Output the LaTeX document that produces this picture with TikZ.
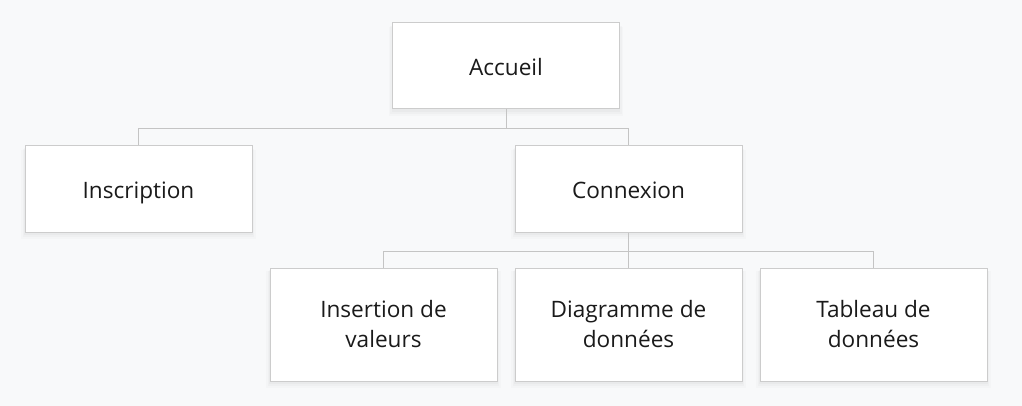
\documentclass[tikz,border=0pt]{standalone}
\usepackage{fontspec}
\setmainfont{Open Sans}
\usetikzlibrary{shadows}
\definecolor{bg}{HTML}{F8F9FA}
\definecolor{bordc}{HTML}{CCCCCC}
\definecolor{linec}{HTML}{C4C4C4}
\definecolor{txt}{HTML}{1A1A1A}
\begin{document}
\begin{tikzpicture}[x=1pt,y=-1pt,
  softshadow/.style={
    general shadow={fill=black, opacity=0.015, shadow yshift=-5pt, shadow scale=1.035},
    general shadow={fill=black, opacity=0.02, shadow yshift=-4pt, shadow scale=1.02},
    general shadow={fill=black, opacity=0.025, shadow yshift=-2.5pt, shadow scale=1.008}},
  card/.style={draw=bordc, line width=1pt, fill=white, minimum width=227pt, align=center,
    font=\fontsize{22.6}{30}\selectfont, text=txt, inner sep=0pt, softshadow},
  small/.style={card, minimum height=86pt, text height=25pt, text depth=5pt},
  tall/.style={card, minimum height=113pt},
  link/.style={draw=linec, line width=1pt}]
\fill[bg] (0,0) rectangle (1022,406);
\useasboundingbox (0,0) rectangle (1022,406);
\node[small] (acc) at (506,66) {Accueil};
\node[small] (ins) at (138.5,189) {Inscription};
\node[small] (con) at (628.5,189) {Connexion};
\node[tall] (ivs) at (383.5,324.5) {Insertion de\\valeurs};
\node[tall] (dia) at (628.5,324.5) {Diagramme de\\données};
\node[tall] (tab) at (873.5,324.5) {Tableau de\\données};
\draw[link] (acc.south) -- ++(0,19) coordinate (j1);
\draw[link] (ins.north) |- (j1) -| (con.north);
\draw[link] (con.south) -- ++(0,19) coordinate (j2);
\draw[link] (ivs.north) |- (j2) -| (tab.north);
\draw[link] (j2) -- (dia.north);
\end{tikzpicture}
\end{document}
